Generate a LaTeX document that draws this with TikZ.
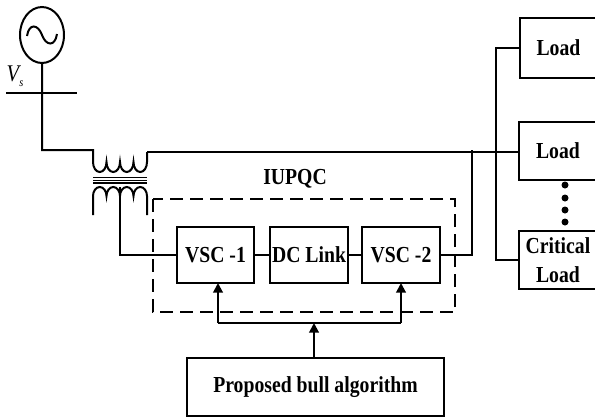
\documentclass[tikz,border=0pt]{standalone}
\usepackage{fontspec}
\setmainfont{Liberation Serif}
\newfontfamily\tallbold[FakeStretch=0.86]{Liberation Serif Bold}
\newfontfamily\tallital[FakeStretch=0.86]{Liberation Serif Italic}
\usetikzlibrary{arrows.meta,shapes.geometric}
\tikzset{
  x=1bp,y=-1bp,
  wire/.style={line width=2bp,line join=miter},
  labeltext/.style={font=\fontsize{23}{29}\tallbold\selectfont},
  blockbox/.style={draw,line width=2bp,inner sep=0pt,labeltext,align=center},
  openbox/.style={blockbox,draw=none},
  arrowwire/.style={wire,-{Triangle[length=9.5bp,width=9.5bp]}},
  dashbox/.style={line width=2bp,dash pattern=on 13bp off 7bp},
  dotmark/.style={circle,fill=black,inner sep=0pt,minimum size=7bp},
}
\newcommand{\boxat}[7][blockbox]{\node[#1,minimum width={(#5-#3)*1bp},minimum height={(#6-#4)*1bp},anchor=north west] (#2) at (#3,#4) {#7};}
\newcommand{\openedge}[1]{\draw[wire] (#1.north east) -- (#1.north west) -- (#1.south west) -- (#1.south east);}
\begin{document}
\begin{tikzpicture}
\useasboundingbox (0,0) rectangle (595,416);
% source
\node[draw,ellipse,line width=2bp,minimum width=44bp,minimum height=56bp,inner sep=0pt] (src) at (42,35) {};
\draw[wire] (27,36) .. controls (29,23) and (38,24) .. (42,35) .. controls (46,46) and (55,47) .. (57,34);
\coordinate (busL) at (6,93);
\coordinate (busR) at (77,93);
\draw[wire] (busL) -- (busR);
\node[font=\fontsize{24}{26}\tallital\selectfont,inner sep=0pt] (vs) at (13,73.5) {V};
\node[font=\fontsize{12}{14}\tallital\selectfont,inner sep=0pt] (vsub) at (21.5,83.5) {s};
% blocks
\boxat{vsc1}{176}{226}{253}{282}{VSC -1}
\boxat{dc}{269}{226}{347}{282}{DC Link}
\boxat{vsc2}{361}{226}{439}{282}{VSC -2}
\boxat{alg}{186}{357}{443}{415}{Proposed bull algorithm}
\boxat[openbox]{load1}{520}{18}{595}{76}{Load}
\boxat[openbox]{load2}{519}{122}{595}{178}{Load}
\boxat[openbox]{crit}{519}{231}{595}{287}{Critical\\Load}
\openedge{load1}
\openedge{load2}
\openedge{crit}
\node[labeltext,inner sep=0pt] (iupqc) at (295,179) {IUPQC};
% dots
\foreach \n/\yy in {a/185,b/198,c/210,d/222}
  \node[dotmark] (dot\n) at (565,\yy) {};
% transformer
\coordinate (tp) at (93,150);
\coordinate (ts) at (147,152);
\draw[wire] (src.south) |- (tp) -- (93,162)
  arc[start angle=180,end angle=360,x radius=6.75bp,y radius=10bp]
  arc[start angle=180,end angle=360,x radius=6.75bp,y radius=10bp]
  arc[start angle=180,end angle=360,x radius=6.75bp,y radius=10bp]
  arc[start angle=180,end angle=360,x radius=6.75bp,y radius=10bp]
  -- (ts);
\draw[line width=1.3bp] (93,177.5) -- (147,177.5) (93,180.2) -- (147,180.2) (93,182.9) -- (147,182.9);
\draw[wire] (93,215) -- (93,196)
  arc[start angle=180,end angle=0,x radius=6.75bp,y radius=9bp]
  arc[start angle=180,end angle=0,x radius=6.75bp,y radius=9bp]
  arc[start angle=180,end angle=0,x radius=6.75bp,y radius=9bp]
  arc[start angle=180,end angle=0,x radius=6.75bp,y radius=9bp]
  -- (147,215);
\coordinate (tap) at (120,187);
\draw[wire] (tap) |- (vsc1.west);
% main wires
\draw[wire] (ts) -- (ts -| load2.west);
\draw[wire] (vsc1.east) -- (dc.west);
\draw[wire] (dc.east) -- (vsc2.west);
\coordinate (jn) at (472,150);
\draw[wire] (vsc2.east) -| (jn);
\coordinate (jb) at (496,152);
\draw[wire] (load1.west) -| (jb) |- (crit.west);
% dashed
\draw[dashbox] (153,199) rectangle (455,312);
% control
\coordinate (ctlL) at (218,323);
\coordinate (ctlR) at (401,323);
\coordinate (ctlM) at (314,323);
\draw[arrowwire] (ctlL) -- (218,283);
\draw[arrowwire] (ctlR) -- (401,283);
\draw[wire] (ctlL) -- (ctlR);
\draw[arrowwire] (alg.north -| ctlM) -- (ctlM);
\end{tikzpicture}
\end{document}
